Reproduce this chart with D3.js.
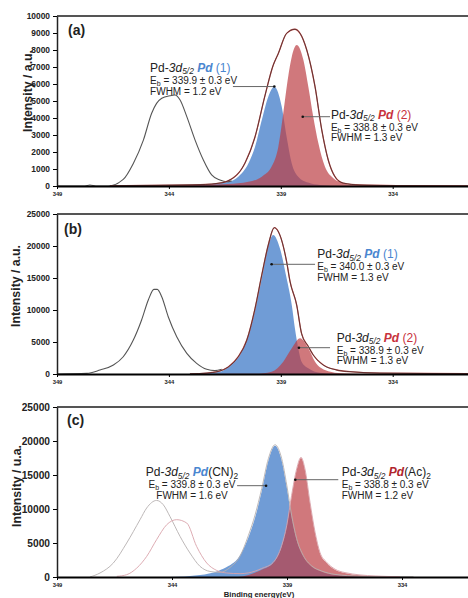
<!DOCTYPE html>
<html>
<head>
<meta charset="utf-8">
<script src="https://cdn.jsdelivr.net/npm/d3@7"></script>
<style>
body { margin: 0; background: #fff; overflow: hidden; }
svg { display: block; font-family: 'Liberation Sans', Arial, sans-serif; }
text { white-space: pre; }
</style>
</head>
<body>
<div id="viz"></div>
<script>
// binding energy ticks (eV), same on the 3 panels
var eTicks = [349, 344, 339, 334];

// (a) - [energy eV, intensity]
var aYTicks = [0, 1000, 2000, 3000, 4000, 5000, 6000, 7000, 8000, 9000, 10000];
var aGray = [[349.00,0],[347.75,0],[347.53,60],[347.26,0],[346.71,0],[346.04,390],[345.59,1330],[345.14,2700],[344.77,4280],[344.55,4860],[344.32,5160],[343.95,5310],[343.73,5350],[343.50,5060],[343.20,4080],[342.83,2700],[342.46,1530],[342.09,650],[341.72,350],[341.42,250],[341.20,300]];
var aEnv = [[346.63,20],[342.61,80],[341.60,200],[341.36,300],[340.60,1350],[340.15,2900],[339.71,5300],[339.34,7100],[339.11,7800],[338.74,8980],[338.37,9220],[338.14,8980],[337.84,8000],[337.47,5840],[337.17,3300],[336.88,1530],[336.58,550],[336.22,175],[335.46,60],[333.67,20],[330.55,0]];
var aBlue = [[344.84,0],[342.61,80],[341.35,250],[340.90,550],[340.45,1330],[340.15,2310],[339.85,3880],[339.56,5250],[339.29,5840],[338.96,4670],[338.74,2900],[338.51,1330],[338.22,550],[337.78,200],[337.25,60],[336.35,0]];
var aRed = [[346.63,20],[342.61,80],[341.35,120],[340.45,250],[339.85,550],[339.41,1140],[339.11,2310],[338.89,4280],[338.67,6430],[338.51,7600],[338.29,8290],[337.99,7410],[337.77,5840],[337.55,4080],[337.32,2510],[337.03,1140],[336.65,450],[336.21,160],[335.82,60],[334.57,20],[330.55,0]];

// (b)
var bYTicks = [0, 5000, 10000, 15000, 20000, 25000];
var bGray = [[349.00,0],[347.67,100],[347.08,625],[346.48,1400],[346.04,2700],[345.59,5300],[345.22,8440],[344.92,11560],[344.67,13230],[344.52,13230],[344.32,12080],[344.03,8950],[343.65,5830],[343.20,3230],[342.76,1670],[342.31,730],[341.94,520],[341.64,730]];
var bEnv = [[343.06,30],[342.30,150],[341.79,400],[341.35,1100],[340.90,2700],[340.52,5300],[340.15,10270],[339.85,15470],[339.56,20160],[339.29,22860],[339.04,21700],[338.74,17550],[338.59,14500],[338.29,10780],[338.07,6300],[337.77,4300],[337.55,2970],[337.10,1400],[336.50,625],[335.91,360],[334.57,150],[330.55,50]];
var bBlue = [[343.06,0],[341.72,360],[341.27,1300],[340.82,3000],[340.45,6000],[340.15,10000],[339.85,15000],[339.56,20000],[339.34,21700],[339.04,19640],[338.74,14950],[338.51,10780],[338.37,7140],[338.22,4020],[338.07,1920],[337.77,890],[337.25,200],[336.35,0]];
var bRed = [[342.61,0],[340.15,20],[339.41,360],[338.89,1920],[338.51,4020],[338.14,5580],[337.77,4020],[337.47,1920],[337.03,625],[336.43,150],[335.68,30],[333.67,0]];

// (c)
var cYTicks = [0, 5000, 10000, 15000, 20000, 25000];
var cGrayCN = [[347.57,0],[347.13,590],[346.55,2060],[345.97,5000],[345.39,8430],[345.10,10150],[344.67,11260],[344.38,10630],[344.09,8910],[343.65,5970],[343.22,3530],[342.78,1560],[342.35,820],[341.91,680],[341.48,1400],[341.04,3100],[340.68,6100],[340.39,9100],[340.10,13000],[339.81,17400],[339.52,19450],[339.23,17400],[339.01,13500],[338.80,9100],[338.58,5650],[338.29,3150],[337.93,1650],[337.49,880],[336.91,380],[335.83,120],[333.50,30]];
var cPinkAc = [[346.40,100],[345.97,340],[345.53,1320],[345.10,3030],[344.67,5490],[344.23,7690],[343.80,8430],[343.36,7940],[342.93,4500],[342.49,2060],[342.06,970],[341.62,590],[341.04,490],[340.68,600],[340.10,1250],[339.60,2150],[339.23,4650],[339.01,7600],[338.80,12000],[338.58,15900],[338.39,17600],[338.22,15900],[338.00,11000],[337.78,6600],[337.57,3650],[337.27,2150],[336.91,1150],[336.48,650],[335.17,150],[334.09,50]];
var cBlue = [[344.09,0],[342.78,300],[341.99,900],[341.55,1600],[341.12,2800],[340.68,5800],[340.39,8700],[340.10,12600],[339.81,17100],[339.52,19310],[339.23,17100],[339.01,13200],[338.80,8800],[338.58,5400],[338.29,3000],[337.93,1500],[337.49,780],[336.91,320],[334.96,0]];
var cRed = [[341.12,0],[340.68,300],[340.10,1070],[339.60,2060],[339.23,4500],[339.01,7440],[338.80,11850],[338.58,15780],[338.39,17500],[338.22,15780],[338.00,10880],[337.78,6470],[337.57,3530],[337.27,2060],[336.91,1070],[336.48,590],[335.17,100],[334.09,0]];

// peak texts
var aPeaks = [{name:'Pd', tag:' (1)', eb:'339.9', fwhm:'1.2'}, {name:'Pd', tag:' (2)', eb:'338.8', fwhm:'1.3'}];
var bPeaks = [{name:'Pd', tag:' (1)', eb:'340.0', fwhm:'1.3'}, {name:'Pd', tag:' (2)', eb:'338.9', fwhm:'1.3'}];
var cPeaks = [{name:'Pd', tag:'(CN)', sub:'2', eb:'339.8', fwhm:'1.6'}, {name:'Pd', tag:'(Ac)', sub:'2', eb:'338.8', fwhm:'1.2'}];

var blue = '#4a86d0', red = '#c8323c', ink = '#222';

var svg = d3.select('#viz')
    .append('svg')
    .attr('width', 468)
    .attr('height', 598)
    ;

function drawPanel(p) {
    var x = d3.scaleLinear().domain([349, 330]).range([57, 57 + 19 * p.ppe]);
    var y = d3.scaleLinear().domain([0, p.yMax]).range([p.bottom, p.top]);
    var g = svg.append('g').attr('class', 'panel-' + p.id);

    g.append('clipPath')
        .attr('id', 'clip-' + p.id)
        .append('rect')
        .attr('x', 57).attr('y', p.top)
        .attr('width', 420).attr('height', p.bottom - p.top)
        ;

    var line = d3.line().x(function(d){return x(d[0])}).y(function(d){return y(d[1])}).curve(d3.curveMonotoneX);
    var area = d3.area().x(function(d){return x(d[0])}).y0(y(0)).y1(function(d){return y(d[1])}).curve(d3.curveMonotoneX);

    var plot = g.append('g').attr('clip-path', 'url(#clip-' + p.id + ')');

    plot.append('path').datum(p.blue).attr('d', area).attr('fill', '#6494d2').attr('opacity', 0.92);
    plot.append('path').datum(p.red).attr('d', area).attr('fill', '#bc3e44').attr('opacity', 0.7);

    p.lines.forEach(function(l){
        plot.append('path')
            .datum(l.data)
            .attr('d', line)
            .attr('fill', 'none')
            .attr('stroke', l.color)
            .attr('stroke-width', l.w)
            ;
    });

    // frame top
    g.append('line')
        .attr('x1', 57).attr('x2', 468)
        .attr('y1', p.top).attr('y2', p.top)
        .attr('stroke', '#555').attr('stroke-width', 2)
        ;

    var yAxis = g.append('g')
        .attr('transform', 'translate(57,0)')
        .call(d3.axisLeft(y).tickValues(p.yTicks).tickSize(4).tickSizeOuter(0).tickPadding(3).tickFormat(d3.format('d')))
        ;
    yAxis.select('.domain').attr('stroke', '#222').attr('stroke-width', 1.5);
    yAxis.selectAll('text').attr('font-size', p.tickFont).attr('font-weight', 'bold').attr('fill', ink).attr('font-family', 'Liberation Sans, Arial, sans-serif');

    var xAxis = g.append('g')
        .attr('transform', 'translate(0,' + p.bottom + ')')
        .call(d3.axisBottom(x).tickValues(eTicks).tickSize(3).tickSizeOuter(0).tickPadding(3).tickFormat(d3.format('d')))
        ;
    xAxis.select('.domain').attr('stroke', '#000').attr('stroke-width', 2);
    xAxis.selectAll('text').attr('font-size', 5.8).attr('font-weight', 'bold').attr('fill', ink).attr('font-family', 'Liberation Sans, Arial, sans-serif');

    g.append('text')
        .text(p.tag)
        .attr('x', p.tagX).attr('y', p.tagY)
        .attr('font-size', 14).attr('font-weight', 'bold').attr('fill', ink)
        ;

    g.append('text')
        .text(p.yTitle)
        .attr('transform', 'translate(' + p.titleX + ',' + p.titleY + ') rotate(-90)')
        .attr('text-anchor', 'middle')
        .attr('font-size', 12.3).attr('font-weight', 'bold').attr('fill', ink)
        ;

    p.notes.forEach(function(n, i){
        addNote(g, x, y, p.peaks[i], n, i == 0 ? blue : p.redInk);
    });
}

// one text block with three lines (tspans)
function addNote(g, x, y, pk, n, col) {
    var px = x(n.e), py = y(n.i);

    g.append('line')
        .attr('x1', x(n.lineE)).attr('x2', x(n.dot[0]))
        .attr('y1', y(n.dot[1])).attr('y2', y(n.dot[1]))
        .attr('stroke', '#666').attr('stroke-width', 1)
        ;
    g.append('circle')
        .attr('cx', x(n.dot[0])).attr('cy', y(n.dot[1]))
        .attr('r', 1.3).attr('fill', '#111')
        ;

    var t = g.append('text').attr('y', py).attr('text-anchor', n.anchor).attr('font-size', 12).attr('fill', ink);

    t.append('tspan').text('Pd-').attr('x', px);
    t.append('tspan').text('3d').attr('font-style', 'italic');
    t.append('tspan').text('5/2').attr('font-style', 'italic').attr('font-size', 8.4).attr('dy', 2.5);
    t.append('tspan').text(' ').attr('dy', -2.5);
    t.append('tspan').text(pk.name).attr('font-style', 'italic').attr('font-weight', 'bold').attr('fill', col);
    if (pk.sub) {
        t.append('tspan').text(pk.tag);
        t.append('tspan').text(pk.sub).attr('font-size', 8.4).attr('dy', 2.5);
    } else {
        t.append('tspan').text(pk.tag).attr('fill', col);
    }

    t.append('tspan').text('E').attr('x', px).attr('y', py + 12).attr('font-size', 10);
    t.append('tspan').text('b').attr('font-size', 7).attr('dy', 2);
    t.append('tspan').text(' = ' + pk.eb + ' ± 0.3 eV').attr('font-size', 10).attr('dy', -2);

    t.append('tspan').text('FWHM = ' + pk.fwhm + ' eV').attr('x', px).attr('y', py + 22.8).attr('font-size', 10);
}

var envLines = function(d){ return [{data: d, color: '#c0504d', w: 1.3}, {data: d, color: '#3b2626', w: 0.7}]; };

drawPanel({
    id: 'a', top: 16, bottom: 186, ppe: 22.38, yMax: 10000, yTicks: aYTicks, tickFont: 8.4,
    tag: '(a)', tagX: 68, tagY: 35, yTitle: 'Intensity / a.u.', titleX: 32, titleY: 91,
    blue: aBlue, red: aRed, redInk: red,
    lines: [{data: aGray, color: '#555', w: 1.1}].concat(envLines(aEnv)),
    peaks: aPeaks,
    notes: [
        {e: 344.84, i: 6720, anchor: 'start', dot: [339.29, 5850], lineE: 341.14},
        {e: 336.76, i: 3970, anchor: 'start', dot: [338.02, 4076], lineE: 336.80}
    ]
});

drawPanel({
    id: 'b', top: 214, bottom: 374, ppe: 22.38, yMax: 25000, yTicks: bYTicks, tickFont: 8.4,
    tag: '(b)', tagX: 64, tagY: 234, yTitle: 'Intensity / a.u.', titleX: 20, titleY: 286,
    blue: bBlue, red: bRed, redInk: red,
    lines: [{data: bGray, color: '#555', w: 1.1}].concat(envLines(bEnv)),
    peaks: bPeaks,
    notes: [
        {e: 337.37, i: 18080, anchor: 'start', dot: [339.41, 17140], lineE: 337.47},
        {e: 336.50, i: 5050, anchor: 'start', dot: [338.19, 4110], lineE: 336.80}
    ]
});

drawPanel({
    id: 'c', top: 407, bottom: 577, ppe: 23, yMax: 25000, yTicks: cYTicks, tickFont: 10.2,
    tag: '(c)', tagX: 67, tagY: 425, yTitle: 'Intensity / u.a.', titleX: 21, titleY: 486,
    blue: cBlue, red: cRed, redInk: '#b0242c',
    lines: [{data: cGrayCN, color: '#b5b0b0', w: 0.9}, {data: cPinkAc, color: '#d9a3aa', w: 0.9}],
    peaks: cPeaks,
    notes: [
        {e: 343.13, i: 14790, anchor: 'middle', dot: [339.91, 13430], lineE: 341.17},
        {e: 336.62, i: 14790, anchor: 'start', dot: [338.64, 14310], lineE: 336.77}
    ]
});

svg.append('text')
    .text('Binding energy(eV)')
    .attr('x', 259).attr('y', 597)
    .attr('text-anchor', 'middle')
    .attr('font-size', 7.7).attr('font-weight', 'bold').attr('fill', ink)
    ;
</script>
</body>
</html>
